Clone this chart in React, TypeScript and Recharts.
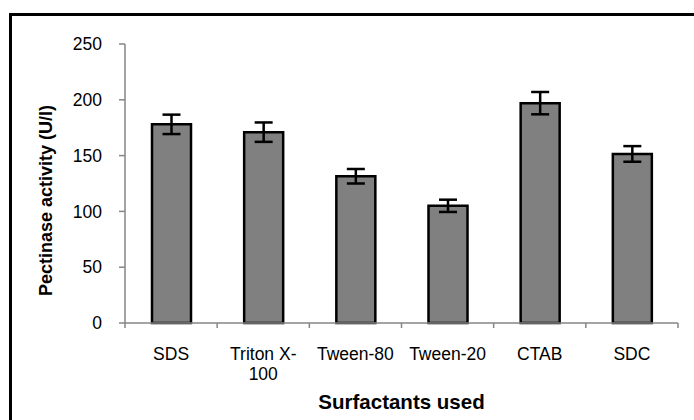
import React from 'react';
import { BarChart, Bar, XAxis, YAxis, ErrorBar } from 'recharts';

const surfactants = ['SDS', 'Triton X-100', 'Tween-80', 'Tween-20', 'CTAB', 'SDC'];
const activity = [178, 171, 131.5, 105, 197, 151.5];
const errors = [8.7, 8.7, 6.5, 5.5, 10, 7];
const yTicks = [0, 50, 100, 150, 200, 250];

const data = surfactants.map((name, i) => ({ name, activity: activity[i], err: errors[i] }));

const font = '"Liberation Sans", Arial, sans-serif';
const axisColor = '#868686';

// split long names after the last dash, like Excel wraps them
const wrap = (s: string): string[] => {
  if (s.length <= 9) return [s];
  const i = s.lastIndexOf('-');
  return i > 0 ? [s.slice(0, i + 1), s.slice(i + 1)] : [s];
};

const CategoryTick = (props: any) => {
  const { x, y, payload, index } = props;
  const half = payload.offset ?? 46;
  const lines = wrap(String(payload.value));
  return (
    <g>
      <line x1={x - half} x2={x - half} y1={y} y2={y + 5} stroke={axisColor} strokeWidth={1.5} />
      {index === surfactants.length - 1 && (
        <line x1={x + half} x2={x + half} y1={y} y2={y + 5} stroke={axisColor} strokeWidth={1.5} />
      )}
      <text x={x} y={y + 37} textAnchor="middle" fontSize={17.5} fill="#000" fontFamily={font}>
        {lines.map((l, k) => (
          <tspan key={k} x={x} dy={k === 0 ? 0 : 20}>
            {l}
          </tspan>
        ))}
      </text>
    </g>
  );
};

export default function App() {
  return (
    <div style={{ position: 'absolute', left: 0, top: 0, width: 694, height: 420, overflow: 'hidden', background: '#fff' }}>
      <div
        style={{
          position: 'absolute',
          left: 9,
          top: 13,
          width: 720,
          height: 440,
          border: '3px solid #000',
          boxSizing: 'border-box',
        }}
      />
      <div style={{ position: 'absolute', left: 0, top: 0 }}>
        <BarChart width={694} height={420} data={data} margin={{ top: 44, right: 16, left: 65, bottom: 17 }} barSize={39}>
          <XAxis
            dataKey="name"
            interval={0}
            tickLine={false}
            tickSize={0}
            tickMargin={0}
            height={80}
            stroke={axisColor}
            strokeWidth={1.5}
            tick={<CategoryTick />}
            label={({ viewBox }: any) => (
              <text
                x={viewBox.x + viewBox.width / 2}
                y={viewBox.y + 86}
                textAnchor="middle"
                fontSize={20.5}
                fontWeight="bold"
                fontFamily={font}
                fill="#000"
              >
                Surfactants used
              </text>
            )}
          />
          <YAxis
            width={60}
            domain={[0, 250]}
            ticks={yTicks}
            interval={0}
            stroke={axisColor}
            strokeWidth={1.5}
            tickSize={6}
            tickMargin={17}
            tick={{ fill: '#000', fontSize: 17.5, fontFamily: font }}
            label={({ viewBox }: any) => (
              <text
                x={46}
                y={viewBox.y + viewBox.height / 2 + 17}
                transform={`rotate(-90 46 ${viewBox.y + viewBox.height / 2 + 17})`}
                textAnchor="middle"
                dominantBaseline="central"
                fontSize={18}
                fontWeight="bold"
                fontFamily={font}
                fill="#000"
              >
                Pectinase activity (U/l)
              </text>
            )}
          />
          <Bar dataKey="activity" fill="#808080" stroke="#000" strokeWidth={2.5} isAnimationActive={false}>
            <ErrorBar dataKey="err" width={9} stroke="#000" strokeWidth={2.5} isAnimationActive={false} />
          </Bar>
        </BarChart>
      </div>
    </div>
  );
}
